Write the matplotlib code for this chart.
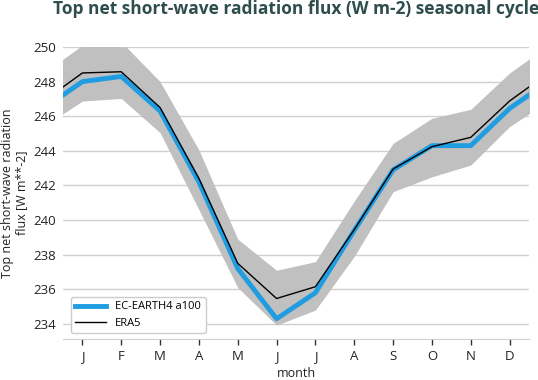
import matplotlib
matplotlib.use("Agg")
import matplotlib.pyplot as plt
import numpy as np

months = ["J", "F", "M", "A", "M", "J", "J", "A", "S", "O", "N", "D"]
model = [248.0, 248.3, 246.3, 242.2, 237.2, 234.3, 235.8, 239.4, 242.9, 244.3, 244.3, 246.45]
era5 = [248.5, 248.57, 246.5, 242.4, 237.5, 235.47, 236.15, 239.45, 242.95, 244.24, 244.78, 246.88]
band_low = [246.88, 247.03, 245.05, 240.6, 236.1, 233.93, 234.8, 237.9, 241.64, 242.5, 243.18, 245.4]
band_high = [250.1, 250.3, 248.0, 244.05, 238.9, 237.1, 237.6, 241.1, 244.43, 245.88, 246.4, 248.5]

plt.rcParams['font.family'] = ['Open Sans', 'DejaVu Sans']

def wrap(v):
    return [v[-1]] + list(v) + [v[0]]

x = np.arange(0, 14)

fig = plt.figure(figsize=(5.38, 3.8), dpi=100)
ax = fig.add_axes([63/538, 1-339/380, (529-63)/538, (339-47)/380])

ax.fill_between(x, wrap(band_low), wrap(band_high), color="#c0c0c0", lw=0, zorder=2)
ax.plot(x, wrap(model), color="#1f9de0", lw=3.5, label="EC-EARTH4 a100", zorder=3)
ax.plot(x, wrap(era5), color="black", lw=1, label="ERA5", zorder=4)

ax.set_xlim(0.5, 12.5)
ax.set_ylim(233.13, 250)
ax.set_xticks(np.arange(1, 13))
ax.set_xticklabels(months)
ax.set_yticks(np.arange(234, 251, 2))

ax.grid(axis="y", color="#d0d0d0", lw=1, zorder=0)
ax.grid(axis="x", visible=False)
for s in ["left", "right", "top"]:
    ax.spines[s].set_visible(False)
ax.spines["bottom"].set_color("#d0d0d0")
ax.tick_params(axis="y", length=0, labelsize=9.5, colors="#222222", pad=5)
ax.tick_params(axis="x", length=4, width=1, color="#333333", labelsize=9.5, labelcolor="#222222", pad=4)

ax.set_xlabel("month", fontsize=9, color="#222222", labelpad=3)
ax.set_ylabel("Top net short-wave radiation\nflux [W m**-2]", fontsize=9, color="#222222",
              labelpad=4, linespacing=1.1)
ax.set_title("Top net short-wave radiation flux (W m-2) seasonal cycle",
             fontsize=12.5, fontweight="bold", color="#2e4d4d", pad=24)

leg = ax.legend(loc="lower left", fontsize=8, frameon=True, fancybox=True,
                edgecolor="#cccccc", framealpha=1, borderpad=0.4, handlelength=2.8,
                bbox_to_anchor=(0.005, 0.0))

fig.savefig("out.png", dpi=100)
